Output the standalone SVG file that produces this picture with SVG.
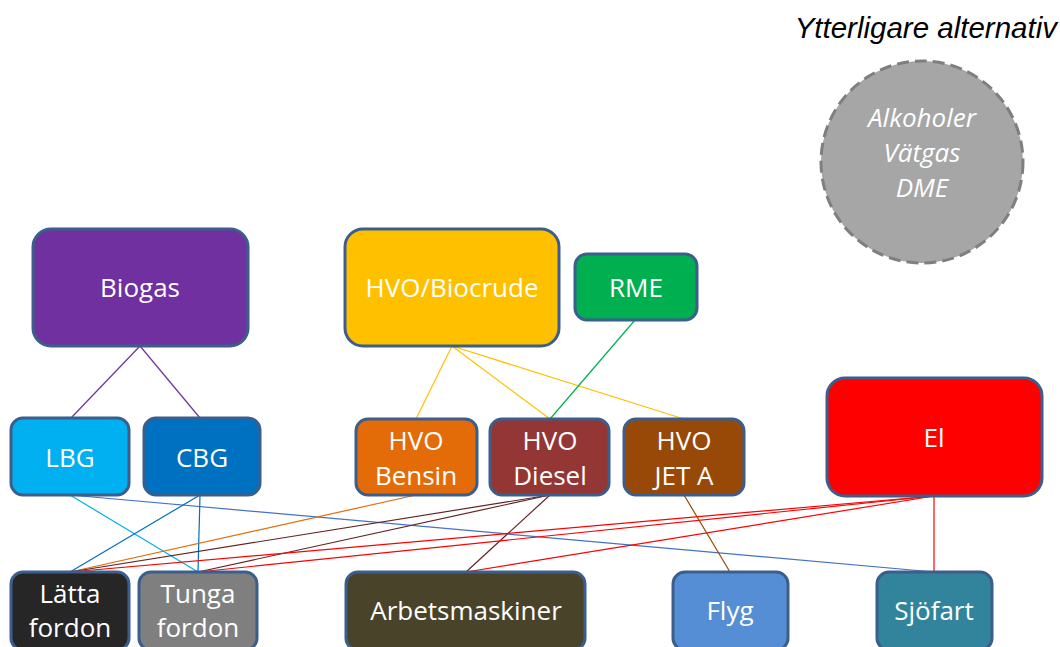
<svg xmlns="http://www.w3.org/2000/svg" width="1060" height="647" viewBox="0 0 1060 647">
<style>
.n{stroke:#3B5E8C;stroke-width:3}
.t{font-family:"Open Sans","Liberation Sans",sans-serif;font-size:26px;fill:#FFFFFF;text-anchor:middle}
.c line{stroke-width:1.2;fill:none}
</style>
<rect width="1060" height="647" fill="#FFFFFF"/>
<g id="connectors" class="c">
<line x1="140" y1="346" x2="71" y2="418" stroke="#7030A0"/>
<line x1="140" y1="346" x2="200" y2="418" stroke="#7030A0"/>
<line x1="452" y1="346" x2="416" y2="419" stroke="#FFC000"/>
<line x1="452" y1="346" x2="550" y2="419" stroke="#FFC000"/>
<line x1="452" y1="346" x2="684" y2="419" stroke="#FFC000"/>
<line x1="635" y1="320" x2="550" y2="419" stroke="#00B050"/>
<line x1="70" y1="495" x2="198" y2="572" stroke="#00B0F0"/>
<line x1="70" y1="495" x2="934" y2="572" stroke="#4472C4"/>
<line x1="200" y1="495" x2="70" y2="572" stroke="#0070C0"/>
<line x1="200" y1="495" x2="198" y2="572" stroke="#0070C0"/>
<line x1="416" y1="495" x2="70" y2="572" stroke="#E46C0A"/>
<line x1="550" y1="495" x2="70" y2="572" stroke="#632523"/>
<line x1="550" y1="495" x2="198" y2="572" stroke="#632523"/>
<line x1="550" y1="495" x2="466" y2="572" stroke="#632523"/>
<line x1="934" y1="496" x2="70" y2="572" stroke="#FF0000"/>
<line x1="934" y1="496" x2="198" y2="572" stroke="#FF0000"/>
<line x1="934" y1="496" x2="466" y2="572" stroke="#FF0000"/>
<line x1="934" y1="496" x2="934" y2="572" stroke="#FF0000"/>
<line x1="684" y1="495" x2="730" y2="572" stroke="#984807"/>
</g>
<g id="alt">
<text x="1057" y="38" font-family="Liberation Sans, Arial, sans-serif" font-size="29.5" font-style="italic" fill="#000000" text-anchor="end">Ytterligare alternativ</text>
<circle cx="922" cy="162" r="101" fill="#A6A6A6" stroke="#7F7F7F" stroke-width="3" stroke-dasharray="12 6"/>
<text class="t" x="922" y="127" font-style="italic" fill="#F2F2F2">Alkoholer</text>
<text class="t" x="922" y="162" font-style="italic" fill="#F2F2F2">Vätgas</text>
<text class="t" x="922" y="197" font-style="italic" fill="#F2F2F2">DME</text>
</g>
<g id="biogas"><rect class="n" x="33" y="229" width="215" height="117" rx="18" fill="#7030A0"/><text class="t" x="140" y="297">Biogas</text></g>
<g id="hvo-biocrude"><rect class="n" x="345" y="229" width="214" height="117" rx="18" fill="#FFC000"/><text class="t" x="452" y="297">HVO/Biocrude</text></g>
<g id="rme"><rect class="n" x="575" y="254" width="122" height="66" rx="12" fill="#00B050"/><text class="t" x="636" y="297">RME</text></g>
<g id="lbg"><rect class="n" x="11" y="418" width="118" height="77" rx="12" fill="#00B0F0"/><text class="t" x="70" y="467">LBG</text></g>
<g id="cbg"><rect class="n" x="144" y="418" width="116" height="77" rx="12" fill="#0070C0"/><text class="t" x="202" y="467">CBG</text></g>
<g id="hvo-bensin"><rect class="n" x="356" y="419" width="121" height="76" rx="12" fill="#E36C09"/><text class="t" x="416" y="450">HVO</text><text class="t" x="416" y="485">Bensin</text></g>
<g id="hvo-diesel"><rect class="n" x="490" y="419" width="119" height="76" rx="12" fill="#943634"/><text class="t" x="550" y="450">HVO</text><text class="t" x="550" y="485">Diesel</text></g>
<g id="hvo-jet"><rect class="n" x="624" y="419" width="120" height="76" rx="12" fill="#984807"/><text class="t" x="684" y="450">HVO</text><text class="t" x="684" y="485">JET A</text></g>
<g id="el"><rect class="n" x="827" y="378" width="215" height="118" rx="18" fill="#FF0000"/><text class="t" x="934" y="447">El</text></g>
<g id="latta"><rect class="n" x="11" y="572" width="118" height="78" rx="12" fill="#262626"/><text class="t" x="70" y="603">Lätta</text><text class="t" x="70" y="637">fordon</text></g>
<g id="tunga"><rect class="n" x="139" y="572" width="118" height="78" rx="12" fill="#7F7F7F"/><text class="t" x="198" y="603">Tunga</text><text class="t" x="198" y="637">fordon</text></g>
<g id="arbetsmaskiner"><rect class="n" x="346" y="572" width="239" height="78" rx="12" fill="#494429"/><text class="t" x="466" y="620">Arbetsmaskiner</text></g>
<g id="flyg"><rect class="n" x="673" y="572" width="115" height="78" rx="12" fill="#558ED5"/><text class="t" x="730" y="620">Flyg</text></g>
<g id="sjofart"><rect class="n" x="877" y="572" width="115" height="78" rx="12" fill="#31849B"/><text class="t" x="934" y="620">Sjöfart</text></g>
</svg>
